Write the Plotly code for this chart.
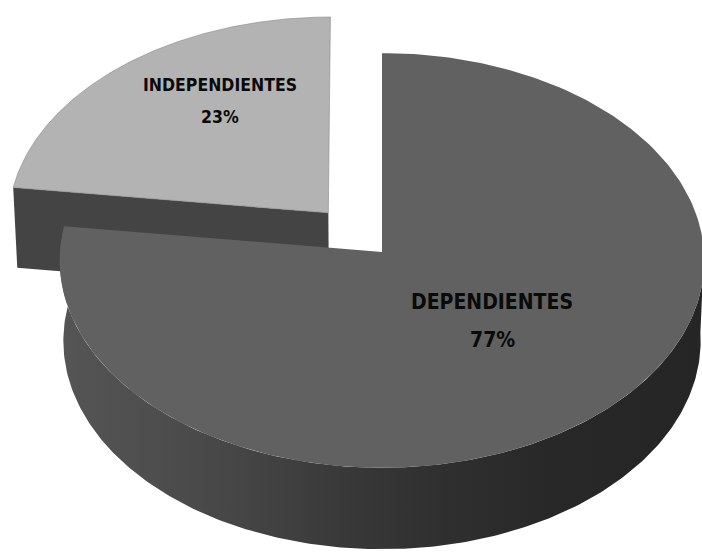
import numpy as np
import plotly.graph_objects as go

# Data
categories = ["DEPENDIENTES", "INDEPENDIENTES"]
percentages = [77, 23]
explode = [0.0, 0.254]          # radial pull-out of each slice (fraction of radius)
top_colors = ["#616161", "#b3b3b3"]
cut_face_colors = ["#3a3a3a", "#444444"]

# Projection of a tilted disc (perspective view from the front, above)
W, H = 702, 553
CX, CY = 382.0, 252.0           # screen position of the pie centre
PHI = np.radians(40.0)          # elevation of the camera
DIST = 18.77                    # camera distance (in radii)
FOCAL = 322.0 * DIST            # focal length in pixels
DEPTH = 0.33                    # pie thickness (in radii)
cphi, sphi = np.cos(PHI), np.sin(PHI)


def project(X, Z, Y):
    X, Z, Y = np.asarray(X, float), np.asarray(Z, float), np.asarray(Y, float)
    d = DIST + Z * cphi - Y * sphi
    return CX + FOCAL * X / d, CY - FOCAL * (Y * cphi + Z * sphi) / d


# slice angles, clockwise from 12 o'clock
total = float(sum(percentages))
ends = np.cumsum([p / total * 360.0 for p in percentages])
starts = np.concatenate([[0.0], ends[:-1]])


def slice_geom(i):
    a, b = starts[i], ends[i]
    mid = np.radians((a + b) / 2.0)
    ox, oz = explode[i] * np.sin(mid), explode[i] * np.cos(mid)
    return a, b, ox, oz


fig = go.Figure()


def add_poly(xs, ys, color=None, gradient=None, edge=None):
    kw = dict(x=list(xs) + [xs[0]], y=list(ys) + [ys[0]], mode="lines",
              fill="toself", hoverinfo="skip", showlegend=False,
              line=dict(width=0.6, color=edge) if edge else dict(width=0))
    if gradient is not None:
        kw["fillgradient"] = gradient
    else:
        kw["fillcolor"] = color
    fig.add_trace(go.Scatter(**kw))


def top_face(i, edge=None):
    a, b, ox, oz = slice_geom(i)
    th = np.radians(np.linspace(a, b, 240))
    X = np.concatenate([[ox], ox + np.sin(th)])
    Z = np.concatenate([[oz], oz + np.cos(th)])
    xs, ys = project(X, Z, np.zeros_like(X))
    add_poly(xs, ys, top_colors[i], edge=edge)


def cut_face(i, angle):
    a, b, ox, oz = slice_geom(i)
    t = np.radians(angle)
    X = np.array([ox, ox + np.sin(t), ox + np.sin(t), ox])
    Z = np.array([oz, oz + np.cos(t), oz + np.cos(t), oz])
    Y = np.array([0.0, 0.0, -DEPTH, -DEPTH])
    xs, ys = project(X, Z, Y)
    add_poly(xs, ys, cut_face_colors[i])


def outer_wall(i, lo, hi):
    a, b, ox, oz = slice_geom(i)
    th = np.radians(np.linspace(lo, hi, 240))
    X = ox + np.sin(th)
    Z = oz + np.cos(th)
    xt, yt = project(X, Z, np.zeros_like(X))
    xb, yb = project(X, Z, np.full_like(X, -DEPTH))
    xs = np.concatenate([xt, xb[::-1]])
    ys = np.concatenate([yt, yb[::-1]])
    add_poly(xs, ys, gradient=dict(
        type="horizontal",
        colorscale=[[0.0, "#555555"], [0.14, "#4e4e4e"], [0.30, "#444444"],
                    [0.45, "#383838"], [0.60, "#2f2f2f"], [0.76, "#282828"],
                    [1.0, "#252525"]]))


# back slice first, then the front slice (painter's order)
cut_face(1, starts[1])
top_face(1, edge="#8a8a8a")
outer_wall(0, 90.0, ends[0])
top_face(0)

# data labels
label_font = "DejaVu Sans Condensed, Liberation Sans Narrow, Lato, sans-serif"
label_pos = {0: (492, 302, 340, 21), 1: (220, 85, 117, 17.5)}
for i, (cat, pct) in enumerate(zip(categories, percentages)):
    x, y1, y2, size = label_pos[i]
    for txt, yy in ((cat, y1), (f"{pct}%", y2)):
        fig.add_annotation(x=x, y=yy, xref="x", yref="y", text=f"<b>{txt}</b>",
                           showarrow=False, xanchor="center", yanchor="middle",
                           font=dict(family=label_font, size=size, color="#0a0a0a"))

fig.update_layout(
    width=W, height=H,
    margin=dict(l=0, r=0, t=0, b=0),
    paper_bgcolor="white", plot_bgcolor="white",
    xaxis=dict(range=[0, W], visible=False, fixedrange=True),
    yaxis=dict(range=[H, 0], visible=False, fixedrange=True),
    showlegend=False,
)

fig.write_html("out.html")
